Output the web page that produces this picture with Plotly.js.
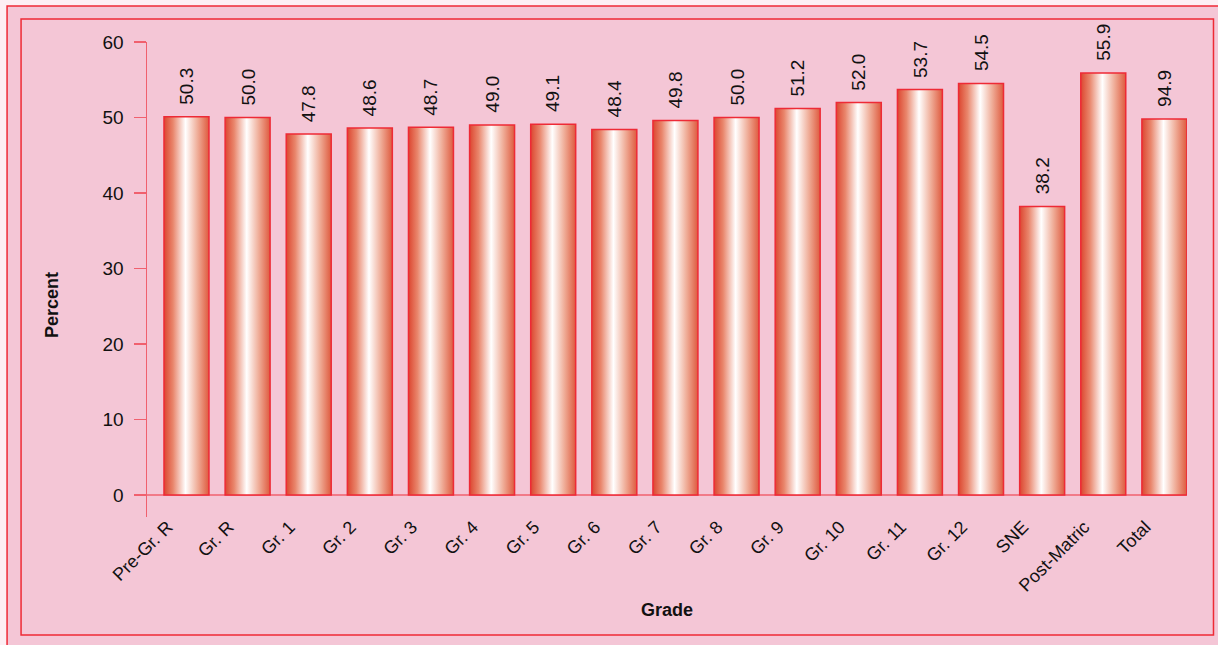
<!DOCTYPE html>
<html>
<head>
<meta charset="utf-8">
<script src="https://cdn.plot.ly/plotly-3.0.1.min.js"></script>
<style>
html,body{margin:0;padding:0;background:#fdeff4;}
#chart{width:1218px;height:645px;}
</style>
</head>
<body>
<div id="chart"></div>
<script>
// ---- data ----
const grades = ["Pre-Gr. R","Gr. R","Gr. 1","Gr. 2","Gr. 3","Gr. 4","Gr. 5","Gr. 6","Gr. 7","Gr. 8","Gr. 9","Gr. 10","Gr. 11","Gr. 12","SNE","Post-Matric","Total"];
const barHeights = [50.1, 50.0, 47.8, 48.6, 48.7, 49.0, 49.1, 48.4, 49.6, 50.0, 51.2, 52.0, 53.7, 54.5, 38.2, 55.9, 49.8];
const barLabels = ["50.3","50.0","47.8","48.6","48.7","49.0","49.1","48.4","49.8","50.0","51.2","52.0","53.7","54.5","38.2","55.9","94.9"];
const yTicks = [0, 10, 20, 30, 40, 50, 60];

// ---- layout helpers ----
const W = 1218, H = 645;
const M = {l: 147, r: 30.5, t: 42, b: 128};
const pw = W - M.l - M.r, ph = H - M.t - M.b;
const px = x => (x - M.l) / pw;
const py = y => (H - M.b - y) / ph;
const RED = '#ee2a36';
const AXIS = '#f0606e';
const FONT = 'Liberation Sans, Arial, Helvetica, sans-serif';

const trace = {
  type: 'bar',
  x: grades,
  y: barHeights,
  marker: {color: '#ec9a86', line: {color: RED, width: 1.5}},
  hoverinfo: 'x+y'
};

const annotations = grades.map((g, i) => ({
  x: g, y: barHeights[i], xref: 'x', yref: 'y',
  text: barLabels[i], showarrow: false, textangle: -90,
  yanchor: 'bottom', xanchor: 'center', yshift: 10,
  font: {family: FONT, size: 19, color: '#111'}
}));
annotations.push({
  xref: 'paper', yref: 'paper', x: px(52), y: py(305),
  text: '<b>Percent</b>', showarrow: false, textangle: -90,
  xanchor: 'center', yanchor: 'middle',
  font: {family: FONT, size: 18, color: '#111'}
});

const shapes = [
  {type: 'rect', xref: 'paper', yref: 'paper', layer: 'below',
   x0: px(7), x1: px(1230), y0: py(6), y1: py(660),
   fillcolor: '#f4c6d6', line: {color: RED, width: 1.5}},
  {type: 'rect', xref: 'paper', yref: 'paper', layer: 'below',
   x0: px(21), x1: px(1214), y0: py(19), y1: py(635),
   fillcolor: 'rgba(0,0,0,0)', line: {color: RED, width: 1.5}},
  {type: 'line', xref: 'paper', yref: 'y', layer: 'below',
   x0: px(135), x1: px(1187), y0: 0, y1: 0,
   line: {color: AXIS, width: 1.5}}
];

const layout = {
  width: W, height: H,
  margin: M,
  paper_bgcolor: '#fdeff4',
  plot_bgcolor: 'rgba(0,0,0,0)',
  showlegend: false,
  bargap: 0.264,
  font: {family: FONT, size: 18, color: '#111'},
  xaxis: {
    type: 'category',
    range: [-0.646, 16.37],
    tickangle: -45,
    ticks: '',
    ticklabelshift: -19,
    ticklabelstandoff: -5,
    showline: false,
    showgrid: false,
    zeroline: false,
    tickfont: {family: FONT, size: 18, color: '#111'},
    title: {text: '<b>Grade</b>', font: {family: FONT, size: 18, color: '#111'}, standoff: 8}
  },
  yaxis: {
    range: [-2.91, 60],
    tickvals: yTicks,
    ticktext: yTicks.map(String),
    ticks: 'outside', ticklen: 12, tickwidth: 1.5, tickcolor: AXIS,
    ticklabelstandoff: 6,
    showline: true, linecolor: AXIS, linewidth: 1.5,
    showgrid: false, zeroline: false,
    tickfont: {family: FONT, size: 19, color: '#111'}
  },
  annotations: annotations,
  shapes: shapes
};

Plotly.newPlot('chart', [trace], layout, {displayModeBar: false, staticPlot: true}).then(gd => {
  const svg = gd.querySelector('svg.main-svg');
  const NS = 'http://www.w3.org/2000/svg';
  let defs = svg.querySelector('defs');
  if (!defs) { defs = document.createElementNS(NS, 'defs'); svg.insertBefore(defs, svg.firstChild); }
  const lg = document.createElementNS(NS, 'linearGradient');
  lg.setAttribute('id', 'barGrad');
  lg.setAttribute('x1', '0'); lg.setAttribute('x2', '1');
  lg.setAttribute('y1', '0'); lg.setAttribute('y2', '0');
  [['0%', '#dc4630'], ['20%', '#e9866c'], ['48%', '#ffffff'], ['75%', '#efac97'], ['100%', '#de5a3e']].forEach(([o, c]) => {
    const s = document.createElementNS(NS, 'stop');
    s.setAttribute('offset', o); s.setAttribute('stop-color', c);
    lg.appendChild(s);
  });
  defs.appendChild(lg);
  gd.querySelectorAll('.bars .point path').forEach(p => { p.style.fill = 'url(#barGrad)'; });
});
</script>
</body>
</html>
